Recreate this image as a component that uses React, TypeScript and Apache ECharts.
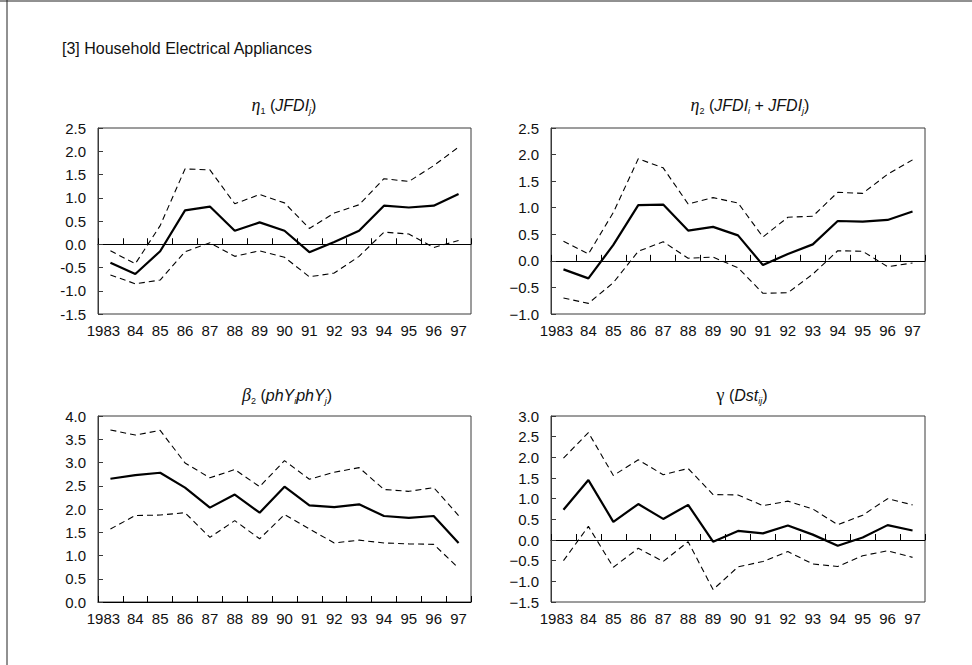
import React, { useEffect, useRef } from 'react';
import * as echarts from 'echarts';

const years = ['1983', '84', '85', '86', '87', '88', '89', '90', '91', '92', '93', '94', '95', '96', '97'];

// Panel 1: eta1 (JFDIj)
const eta1Est = [-0.40, -0.64, -0.15, 0.73, 0.81, 0.29, 0.47, 0.29, -0.17, 0.05, 0.29, 0.83, 0.79, 0.83, 1.08];
const eta1Upper = [-0.14, -0.42, 0.40, 1.62, 1.60, 0.87, 1.07, 0.89, 0.34, 0.67, 0.85, 1.41, 1.35, 1.69, 2.09];
const eta1Lower = [-0.66, -0.85, -0.77, -0.16, 0.03, -0.26, -0.14, -0.28, -0.70, -0.62, -0.26, 0.26, 0.22, -0.07, 0.08];

// Panel 2: eta2 (JFDIi + JFDIj)
const eta2Est = [-0.16, -0.33, 0.30, 1.05, 1.06, 0.57, 0.64, 0.48, -0.08, 0.13, 0.31, 0.75, 0.74, 0.77, 0.93];
const eta2Upper = [0.37, 0.13, 0.91, 1.92, 1.75, 1.07, 1.19, 1.09, 0.45, 0.82, 0.84, 1.29, 1.27, 1.63, 1.90];
const eta2Lower = [-0.70, -0.80, -0.41, 0.18, 0.36, 0.05, 0.07, -0.13, -0.61, -0.60, -0.25, 0.19, 0.18, -0.11, -0.04];

// Panel 3: beta2 (phYi phYj)
const beta2Est = [2.65, 2.73, 2.78, 2.46, 2.03, 2.31, 1.92, 2.48, 2.08, 2.04, 2.10, 1.85, 1.81, 1.85, 1.27];
const beta2Upper = [3.70, 3.59, 3.69, 2.99, 2.67, 2.85, 2.48, 3.04, 2.64, 2.79, 2.89, 2.42, 2.38, 2.46, 1.86];
const beta2Lower = [1.57, 1.86, 1.87, 1.92, 1.39, 1.75, 1.36, 1.88, 1.57, 1.27, 1.33, 1.27, 1.25, 1.24, 0.73];

// Panel 4: gamma (Dstij)
const gammaEst = [0.73, 1.45, 0.44, 0.87, 0.51, 0.85, -0.04, 0.22, 0.16, 0.35, 0.13, -0.14, 0.06, 0.36, 0.23];
const gammaUpper = [1.98, 2.60, 1.56, 1.94, 1.58, 1.73, 1.10, 1.09, 0.83, 0.94, 0.75, 0.37, 0.60, 1.00, 0.85];
const gammaLower = [-0.50, 0.33, -0.66, -0.20, -0.52, -0.04, -1.20, -0.65, -0.52, -0.28, -0.58, -0.64, -0.38, -0.26, -0.42];

const FONT = '"Liberation Sans", Arial, Helvetica, sans-serif';
const SERIF = '"Liberation Serif", "Times New Roman", serif';
const TEXT = '#111';
const FRAME = '#3a3a3a';
const AXIS_FS = 15;

const panels = [
  { est: eta1Est, up: eta1Upper, lo: eta1Lower, min: -1.5, max: 2.5, minus: '-', grid: { left: 98, top: 128, width: 373, height: 186 } },
  { est: eta2Est, up: eta2Upper, lo: eta2Lower, min: -1.0, max: 2.5, minus: '\u2212', grid: { left: 551, top: 128, width: 374, height: 186 } },
  { est: beta2Est, up: beta2Upper, lo: beta2Lower, min: 0, max: 4.0, minus: '-', grid: { left: 98, top: 416, width: 373, height: 186 } },
  { est: gammaEst, up: gammaUpper, lo: gammaLower, min: -1.5, max: 3.0, minus: '\u2212', grid: { left: 551, top: 416, width: 374, height: 186 } },
];

const titleRich = {
  g: { fontFamily: SERIF, fontStyle: 'italic', fontSize: 18, lineHeight: 20, fill: TEXT },
  gu: { fontFamily: SERIF, fontSize: 18, lineHeight: 20, fill: TEXT },
  n: { fontFamily: FONT, fontSize: 16, lineHeight: 20, fill: TEXT },
  i: { fontFamily: FONT, fontStyle: 'italic', fontSize: 16, lineHeight: 20, fill: TEXT },
  s: { fontFamily: FONT, fontSize: 9, lineHeight: 9, verticalAlign: 'bottom', fill: TEXT },
  si: { fontFamily: FONT, fontStyle: 'italic', fontSize: 9, lineHeight: 9, verticalAlign: 'bottom', fill: TEXT },
};

const panelTitles = [
  { x: 284, y: 105, text: '{g|\u03b7}{s|1}{n| (}{i|JFDI}{si|j}{n|)}' },
  { x: 750, y: 105, text: '{g|\u03b7}{s|2}{n| (}{i|JFDI}{si|i}{n| + }{i|JFDI}{si|j}{n|)}' },
  { x: 287, y: 395, text: '{g|\u03b2}{s|2}{n| (}{i|phY}{si|i}{i|phY}{si|j}{n|)}' },
  { x: 742, y: 395, text: '{gu|\u03b3}{n| (}{i|Dst}{si|ij}{n|)}' },
];

export default function App() {
  const ref = useRef<HTMLDivElement>(null);

  useEffect(() => {
    if (!ref.current) return;
    const chart = echarts.init(ref.current, undefined, { renderer: 'svg' });

    const grids: any[] = [];
    const xAxes: any[] = [];
    const yAxes: any[] = [];
    const series: any[] = [];

    panels.forEach((p, k) => {
      grids.push({ ...p.grid, show: true, borderColor: FRAME, borderWidth: 1, backgroundColor: 'transparent' });
      xAxes.push({
        type: 'category',
        gridIndex: k,
        data: years,
        position: 'bottom',
        boundaryGap: true,
        axisLine: { show: false, onZero: false },
        axisTick: { show: false },
        axisLabel: {
          interval: 0,
          margin: 9,
          color: TEXT,
          fontSize: AXIS_FS,
          fontFamily: FONT,
          formatter: (v: string, i: number) => (i === 0 ? '{f|' + v + '}' : v),
          rich: { f: { padding: [0, 14, 0, 0], fontSize: AXIS_FS, fontFamily: FONT, color: TEXT } },
        },
      });
      xAxes.push({
        type: 'category',
        gridIndex: k,
        data: years,
        position: 'bottom',
        boundaryGap: true,
        axisLine: { show: true, onZero: true, lineStyle: { color: '#000', width: 1 } },
        axisTick: { show: true, inside: true, length: 6, interval: 0, lineStyle: { color: '#000', width: 1 } },
        axisLabel: { show: false },
        splitLine: { show: false },
      });
      yAxes.push({
        type: 'value',
        gridIndex: k,
        min: p.min,
        max: p.max,
        interval: 0.5,
        axisLine: { show: true, onZero: false, lineStyle: { color: FRAME, width: 1 } },
        axisTick: { show: true, inside: true, length: 5, lineStyle: { color: FRAME } },
        splitLine: { show: false },
        axisLabel: {
          margin: 12,
          color: TEXT,
          fontSize: AXIS_FS,
          fontFamily: FONT,
          formatter: (v: number) => v.toFixed(1).replace('-', p.minus),
        },
      });
      const common = { type: 'line', xAxisIndex: 2 * k, yAxisIndex: k, symbol: 'none', silent: true };
      series.push({ ...common, name: 'est' + k, data: p.est, lineStyle: { color: '#000', width: 2.2, type: 'solid' }, z: 3 });
      series.push({ ...common, name: 'up' + k, data: p.up, lineStyle: { color: '#000', width: 1.1, type: [6, 4] }, z: 2 });
      series.push({ ...common, name: 'lo' + k, data: p.lo, lineStyle: { color: '#000', width: 1.1, type: [6, 4] }, z: 2 });
    });

    const graphics: any[] = [
      { type: 'line', shape: { x1: 0, y1: 1, x2: 972, y2: 1 }, style: { stroke: '#222', lineWidth: 1 } },
      { type: 'line', shape: { x1: 7, y1: 0, x2: 7, y2: 665 }, style: { stroke: '#222', lineWidth: 1 } },
      {
        type: 'text',
        x: 62,
        y: 48,
        style: { text: '[3] Household Electrical Appliances', fontFamily: FONT, fontSize: 16, fill: TEXT, verticalAlign: 'middle', align: 'left' },
      },
      ...panelTitles.map((t) => ({
        type: 'text',
        x: t.x,
        y: t.y,
        style: { text: t.text, rich: titleRich, fontFamily: FONT, fontSize: 16, fill: TEXT, align: 'center', verticalAlign: 'middle' },
      })),
    ];

    chart.setOption({
      animation: false,
      backgroundColor: '#fff',
      grid: grids,
      xAxis: xAxes,
      yAxis: yAxes,
      series,
      graphic: graphics,
    });

    return () => chart.dispose();
  }, []);

  return <div ref={ref} style={{ position: 'fixed', left: 0, top: 0, width: 972, height: 665 }} />;
}
